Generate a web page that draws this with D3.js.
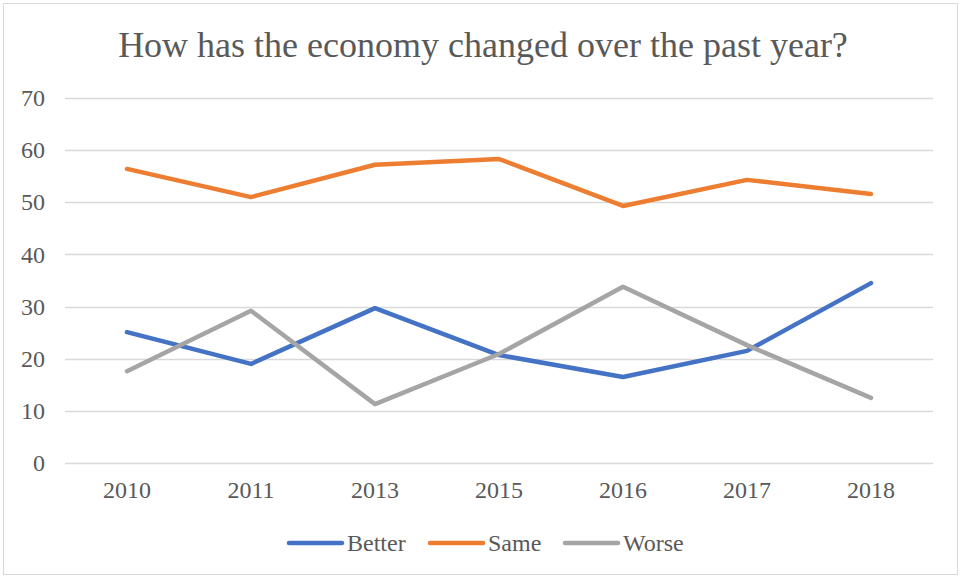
<!DOCTYPE html>
<html>
<head>
<meta charset="utf-8">
<script src="https://cdn.jsdelivr.net/npm/d3@7"></script>
<style>
  html, body { margin: 0; padding: 0; background: #fff; }
  svg { display: block; font-family: "Liberation Serif", "Times New Roman", serif; }
</style>
</head>
<body>
<svg id="chart" width="961" height="578"></svg>
<script>
// Survey results: share of respondents by answer, per year
const years = ["2010", "2011", "2013", "2015", "2016", "2017", "2018"];
const better = [25.1, 19.0, 29.7, 20.7, 16.5, 21.5, 34.5];
const same = [56.4, 51.0, 57.2, 58.3, 49.3, 54.3, 51.6];
const worse = [17.6, 29.2, 11.3, 20.9, 33.8, 22.6, 12.5];
const seriesNames = ["Better", "Same", "Worse"];
const yTicks = [0, 10, 20, 30, 40, 50, 60, 70];

const series = [
  { name: seriesNames[0], values: better, color: "#4472c4" },
  { name: seriesNames[1], values: same, color: "#ed7d31" },
  { name: seriesNames[2], values: worse, color: "#a5a5a5" }
];

const svg = d3.select("#chart");
const W = 961, H = 578;
const plot = { left: 65, right: 933, top: 98, bottom: 463 };
const serif = "Liberation Serif, Times New Roman, serif";

// Chart frame
svg.append("rect")
  .attr("x", 3.5).attr("y", 3.5)
  .attr("width", W - 7).attr("height", H - 7)
  .attr("fill", "#fff").attr("stroke", "#d9d9d9").attr("stroke-width", 1);

// Title
svg.append("text")
  .attr("x", 483).attr("y", 57)
  .attr("text-anchor", "middle")
  .attr("font-size", 36)
  .attr("fill", "#595959")
  .text("How has the economy changed over the past year?");

const x = d3.scaleBand().domain(years).range([plot.left, plot.right]);
const y = d3.scaleLinear().domain([0, 70]).range([plot.bottom, plot.top]);

// Horizontal gridlines
svg.append("g")
  .selectAll("line")
  .data(yTicks)
  .join("line")
  .attr("x1", plot.left).attr("x2", plot.right)
  .attr("y1", d => Math.round(y(d)) + 0.5).attr("y2", d => Math.round(y(d)) + 0.5)
  .attr("stroke", "#d9d9d9").attr("stroke-width", 1.5);

// Y axis labels
const yAxis = svg.append("g")
  .attr("transform", `translate(${plot.left},0)`)
  .call(d3.axisLeft(y).tickValues(yTicks).tickSize(0).tickPadding(20).tickFormat(d3.format("d")));
yAxis.select(".domain").remove();
yAxis.selectAll("text")
  .attr("font-family", serif)
  .attr("font-size", 24).attr("fill", "#595959");

// X axis labels
const xAxis = svg.append("g")
  .attr("transform", `translate(0,${plot.bottom})`)
  .call(d3.axisBottom(x).tickSize(0).tickPadding(18));
xAxis.select(".domain").remove();
xAxis.selectAll("text")
  .attr("font-family", serif)
  .attr("font-size", 24).attr("fill", "#595959");

// Lines
const line = d3.line()
  .x((d, i) => x(years[i]) + x.bandwidth() / 2)
  .y(d => y(d));

svg.append("g")
  .selectAll("path")
  .data(series)
  .join("path")
  .attr("d", d => line(d.values))
  .attr("fill", "none")
  .attr("stroke", d => d.color)
  .attr("stroke-width", 4.5)
  .attr("stroke-linecap", "round")
  .attr("stroke-linejoin", "round");

// Legend
const legendX = [289, 430, 565];
const legend = svg.append("g")
  .selectAll("g")
  .data(series)
  .join("g")
  .attr("transform", (d, i) => `translate(${legendX[i]},543)`);
legend.append("line")
  .attr("x1", 0).attr("x2", 53).attr("y1", 0).attr("y2", 0)
  .attr("stroke", d => d.color).attr("stroke-width", 4.5).attr("stroke-linecap", "round");
legend.append("text")
  .attr("x", 58).attr("y", 8)
  .attr("font-size", 24).attr("fill", "#595959")
  .text(d => d.name);
</script>
</body>
</html>
